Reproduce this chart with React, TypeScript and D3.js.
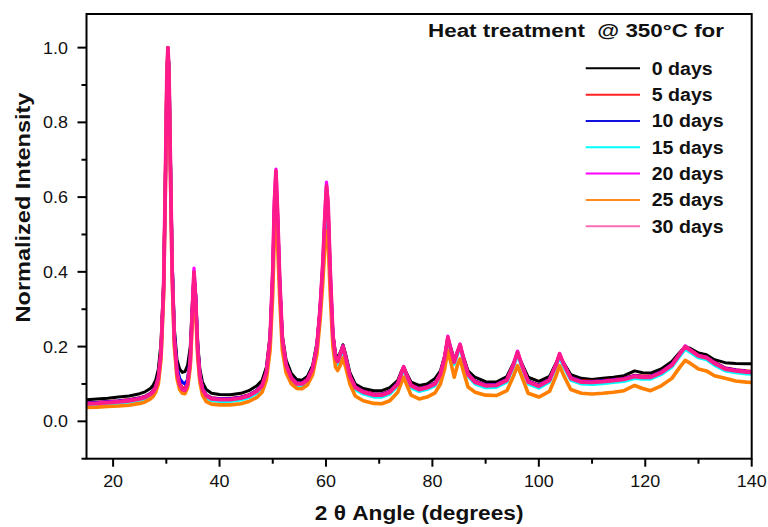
import React from 'react';
import * as d3 from 'd3';

// 2θ grid (degrees)
const angles = [
  15, 17, 19, 21, 23, 25, 26, 27, 27.5, 28,
  28.5, 29, 29.5, 29.8, 30.1, 30.3, 30.5, 30.8, 31.1, 31.5,
  32, 32.5, 33, 33.5, 34, 34.5, 34.9, 35.2, 35.5, 35.9,
  36.3, 36.8, 37.5, 38.5, 40, 42, 44, 45.5, 47, 48,
  48.8, 49.5, 50, 50.3, 50.6, 50.9, 51.3, 51.8, 52.5, 53.5,
  54.5, 55.5, 56.5, 57.5, 58.3, 58.9, 59.4, 59.8, 60.1, 60.4,
  60.8, 61.3, 61.8, 62.2, 62.7, 63.2, 63.7, 64.5, 65.5, 67,
  69, 70.5, 72, 73.5, 74.2, 74.6, 75.1, 76, 77.5, 79,
  80.5, 81.5, 82.3, 82.9, 83.5, 84.1, 84.7, 85.2, 85.8, 86.7,
  88, 90, 92, 94, 95.2, 96, 96.8, 98, 100, 102,
  103.2, 103.9, 104.6, 106, 108, 110, 112, 114, 116, 118,
  119.5, 121, 123, 125, 126.5, 127.5, 128.5, 130, 131.5, 133,
  135, 137, 139, 140,
];

const days0 = [
  0.058, 0.060, 0.062, 0.065, 0.068, 0.074, 0.079, 0.088, 0.096, 0.11,
  0.14, 0.21, 0.38, 0.63, 0.92, 1.0, 0.94, 0.68, 0.43, 0.25,
  0.165, 0.14, 0.131, 0.133, 0.15, 0.20, 0.32, 0.39, 0.34, 0.21,
  0.14, 0.105, 0.085, 0.075, 0.072, 0.071, 0.075, 0.082, 0.095, 0.11,
  0.145, 0.23, 0.39, 0.54, 0.60, 0.52, 0.37, 0.23, 0.165, 0.128,
  0.112, 0.11, 0.12, 0.15, 0.21, 0.30, 0.41, 0.52, 0.57, 0.53,
  0.38, 0.235, 0.18, 0.17, 0.185, 0.205, 0.18, 0.13, 0.10, 0.088,
  0.082, 0.082, 0.09, 0.11, 0.135, 0.145, 0.13, 0.105, 0.096, 0.10,
  0.115, 0.135, 0.175, 0.22, 0.195, 0.165, 0.185, 0.20, 0.175, 0.135,
  0.118, 0.106, 0.105, 0.12, 0.155, 0.18, 0.155, 0.118, 0.107, 0.12,
  0.155, 0.175, 0.158, 0.125, 0.115, 0.112, 0.115, 0.118, 0.122, 0.135,
  0.13, 0.129, 0.14, 0.16, 0.185, 0.20, 0.195, 0.183, 0.178, 0.165,
  0.157, 0.155, 0.154, 0.154,
];

const days5 = [
  0.050, 0.051, 0.053, 0.055, 0.058, 0.063, 0.067, 0.075, 0.081, 0.094,
  0.12, 0.19, 0.37, 0.63, 0.93, 1.0, 0.93, 0.66, 0.41, 0.225,
  0.135, 0.103, 0.09, 0.088, 0.105, 0.165, 0.30, 0.39, 0.33, 0.19,
  0.122, 0.088, 0.071, 0.063, 0.061, 0.061, 0.065, 0.071, 0.083, 0.098,
  0.133, 0.22, 0.39, 0.57, 0.65, 0.55, 0.37, 0.22, 0.152, 0.118,
  0.103, 0.103, 0.113, 0.143, 0.20, 0.30, 0.41, 0.54, 0.61, 0.57,
  0.39, 0.23, 0.172, 0.162, 0.182, 0.20, 0.172, 0.122, 0.093, 0.081,
  0.073, 0.073, 0.081, 0.103, 0.132, 0.145, 0.127, 0.098, 0.088, 0.093,
  0.103, 0.128, 0.172, 0.222, 0.19, 0.16, 0.185, 0.203, 0.172, 0.128,
  0.108, 0.098, 0.099, 0.113, 0.152, 0.183, 0.152, 0.108, 0.097, 0.113,
  0.152, 0.178, 0.156, 0.118, 0.108, 0.107, 0.109, 0.112, 0.115, 0.123,
  0.121, 0.121, 0.133, 0.153, 0.182, 0.198, 0.19, 0.177, 0.172, 0.158,
  0.143, 0.138, 0.135, 0.134,
];

const days10 = [
  0.049, 0.050, 0.052, 0.054, 0.057, 0.062, 0.066, 0.074, 0.080, 0.093,
  0.12, 0.185, 0.36, 0.61, 0.91, 0.99, 0.95, 0.68, 0.42, 0.235,
  0.145, 0.115, 0.105, 0.10, 0.112, 0.17, 0.30, 0.39, 0.34, 0.2,
  0.128, 0.09, 0.07, 0.062, 0.06, 0.06, 0.064, 0.07, 0.082, 0.097,
  0.132, 0.22, 0.39, 0.56, 0.64, 0.55, 0.375, 0.22, 0.152, 0.117,
  0.102, 0.102, 0.112, 0.142, 0.20, 0.30, 0.41, 0.53, 0.60, 0.56,
  0.39, 0.23, 0.172, 0.162, 0.182, 0.20, 0.172, 0.122, 0.092, 0.08,
  0.072, 0.072, 0.08, 0.102, 0.13, 0.143, 0.126, 0.097, 0.087, 0.092,
  0.102, 0.127, 0.17, 0.22, 0.19, 0.16, 0.184, 0.202, 0.17, 0.127,
  0.107, 0.097, 0.098, 0.112, 0.15, 0.182, 0.152, 0.107, 0.096, 0.112,
  0.15, 0.176, 0.155, 0.117, 0.107, 0.106, 0.108, 0.111, 0.114, 0.122,
  0.12, 0.12, 0.132, 0.152, 0.18, 0.196, 0.188, 0.176, 0.171, 0.157,
  0.142, 0.137, 0.134, 0.133,
];

const days15 = [
  0.043, 0.044, 0.046, 0.048, 0.051, 0.056, 0.060, 0.068, 0.074, 0.086,
  0.11, 0.175, 0.35, 0.61, 0.92, 0.99, 0.93, 0.66, 0.40, 0.215,
  0.125, 0.093, 0.08, 0.078, 0.095, 0.155, 0.29, 0.38, 0.32, 0.18,
  0.114, 0.08, 0.063, 0.055, 0.053, 0.053, 0.057, 0.063, 0.075, 0.09,
  0.125, 0.21, 0.38, 0.55, 0.63, 0.53, 0.36, 0.21, 0.145, 0.11,
  0.095, 0.095, 0.105, 0.135, 0.19, 0.29, 0.40, 0.52, 0.59, 0.55,
  0.38, 0.22, 0.163, 0.152, 0.173, 0.19, 0.163, 0.115, 0.085, 0.073,
  0.065, 0.065, 0.073, 0.095, 0.124, 0.138, 0.12, 0.09, 0.08, 0.085,
  0.095, 0.12, 0.163, 0.215, 0.183, 0.152, 0.178, 0.197, 0.163, 0.12,
  0.1, 0.09, 0.091, 0.105, 0.144, 0.178, 0.145, 0.1, 0.089, 0.105,
  0.144, 0.172, 0.148, 0.11, 0.1, 0.099, 0.101, 0.104, 0.107, 0.115,
  0.113, 0.113, 0.125, 0.145, 0.174, 0.193, 0.184, 0.17, 0.165, 0.15,
  0.135, 0.13, 0.127, 0.126,
];

const days20 = [
  0.048, 0.049, 0.051, 0.053, 0.056, 0.061, 0.065, 0.073, 0.079, 0.091,
  0.116, 0.182, 0.36, 0.62, 0.92, 1.0, 0.93, 0.66, 0.40, 0.22,
  0.131, 0.099, 0.086, 0.084, 0.101, 0.162, 0.31, 0.41, 0.335, 0.19,
  0.121, 0.086, 0.069, 0.061, 0.059, 0.059, 0.063, 0.069, 0.081, 0.096,
  0.131, 0.222, 0.41, 0.59, 0.675, 0.565, 0.385, 0.222, 0.151, 0.116,
  0.101, 0.101, 0.111, 0.141, 0.202, 0.305, 0.425, 0.56, 0.64, 0.585,
  0.405, 0.232, 0.171, 0.161, 0.181, 0.202, 0.171, 0.121, 0.091, 0.079,
  0.071, 0.071, 0.079, 0.101, 0.131, 0.147, 0.126, 0.096, 0.086, 0.091,
  0.101, 0.126, 0.171, 0.228, 0.191, 0.159, 0.186, 0.207, 0.171, 0.126,
  0.106, 0.096, 0.097, 0.111, 0.151, 0.188, 0.151, 0.106, 0.095, 0.111,
  0.151, 0.182, 0.156, 0.116, 0.106, 0.105, 0.107, 0.11, 0.113, 0.121,
  0.119, 0.119, 0.131, 0.151, 0.181, 0.202, 0.191, 0.176, 0.171, 0.156,
  0.141, 0.136, 0.133, 0.132,
];

const days25 = [
  0.037, 0.038, 0.040, 0.041, 0.043, 0.048, 0.052, 0.060, 0.066, 0.078,
  0.10, 0.165, 0.34, 0.60, 0.90, 0.99, 0.91, 0.64, 0.38, 0.20,
  0.115, 0.085, 0.075, 0.074, 0.09, 0.145, 0.27, 0.36, 0.30, 0.17,
  0.105, 0.07, 0.053, 0.046, 0.044, 0.044, 0.047, 0.053, 0.064, 0.078,
  0.11, 0.19, 0.34, 0.50, 0.57, 0.48, 0.33, 0.19, 0.13, 0.10,
  0.088, 0.087, 0.097, 0.125, 0.18, 0.27, 0.37, 0.47, 0.51, 0.48,
  0.34, 0.20, 0.145, 0.136, 0.15, 0.17, 0.145, 0.10, 0.068, 0.055,
  0.048, 0.047, 0.055, 0.078, 0.105, 0.118, 0.10, 0.07, 0.06, 0.065,
  0.076, 0.10, 0.14, 0.19, 0.155, 0.118, 0.15, 0.167, 0.135, 0.092,
  0.078, 0.07, 0.069, 0.082, 0.12, 0.149, 0.12, 0.075, 0.065, 0.08,
  0.12, 0.149, 0.125, 0.085, 0.075, 0.073, 0.075, 0.078, 0.082, 0.096,
  0.088, 0.082, 0.095, 0.115, 0.145, 0.163, 0.155, 0.14, 0.135, 0.122,
  0.115, 0.108, 0.105, 0.104,
];

const days30 = [
  0.047, 0.048, 0.050, 0.052, 0.055, 0.060, 0.064, 0.072, 0.078, 0.090,
  0.115, 0.18, 0.36, 0.62, 0.92, 1.0, 0.93, 0.66, 0.40, 0.22,
  0.13, 0.098, 0.085, 0.083, 0.10, 0.16, 0.30, 0.40, 0.33, 0.19,
  0.12, 0.085, 0.068, 0.060, 0.058, 0.058, 0.062, 0.068, 0.080, 0.095,
  0.13, 0.22, 0.40, 0.58, 0.67, 0.56, 0.38, 0.22, 0.15, 0.115,
  0.10, 0.10, 0.11, 0.14, 0.20, 0.30, 0.42, 0.55, 0.63, 0.58,
  0.40, 0.23, 0.17, 0.16, 0.18, 0.20, 0.17, 0.12, 0.09, 0.078,
  0.07, 0.07, 0.078, 0.10, 0.13, 0.145, 0.125, 0.095, 0.085, 0.09,
  0.10, 0.125, 0.17, 0.225, 0.19, 0.158, 0.185, 0.205, 0.17, 0.125,
  0.105, 0.095, 0.096, 0.11, 0.15, 0.185, 0.15, 0.105, 0.094, 0.11,
  0.15, 0.18, 0.155, 0.115, 0.105, 0.104, 0.106, 0.109, 0.112, 0.12,
  0.118, 0.118, 0.13, 0.15, 0.18, 0.2, 0.19, 0.175, 0.17, 0.155,
  0.14, 0.135, 0.132, 0.131,
];

const seriesNames = ['0 days', '5 days', '10 days', '15 days', '20 days', '25 days', '30 days'];
const seriesValues = [days0, days5, days10, days15, days20, days25, days30];
const seriesColors = ['#000000', '#ff0000', '#0000ff', '#00ffff', '#ff00ff', '#ff8000', '#ff1a8c'];
const legendColors = ['#000000', '#ff2020', '#1010e0', '#00ffff', '#ff00ff', '#ff8a20', '#ff6eb4'];
const seriesWidths = [3, 3.2, 3.2, 3.2, 3.2, 3.6, 3.8];

const xMajorTicks = [20, 40, 60, 80, 100, 120, 140];
const xMinorTicks = [30, 50, 70, 90, 110, 130];
const yMajorTicks = [0, 0.2, 0.4, 0.6, 0.8, 1.0];
const yMinorTicks = [-0.1, 0.1, 0.3, 0.5, 0.7, 0.9];

const legendTitle = 'Heat treatment  @ 350°C for';
const xTitle = '2 θ Angle (degrees)';
const yTitle = 'Normalized Intensity';

const FONT = '"Liberation Sans", Arial, Helvetica, sans-serif';
const SX = 1.12;

export default function App() {
  const W = 768;
  const H = 527;
  const L = 86.5, R = 751.7, T = 14, B = 458.7;
  const x = d3.scaleLinear().domain([15, 140]).range([L, R]);
  const y = d3.scaleLinear().domain([-0.1, 1.09]).range([B, T]);

  const line = d3
    .line<number>()
    .x((_, i) => x(angles[i]))
    .y((v) => y(v));

  return (
    <svg
      width={W}
      height={H}
      viewBox={`0 0 ${W} ${H}`}
      style={{ position: 'absolute', left: 0, top: 0, background: '#fff' }}
      fontFamily={FONT}
    >
      <defs>
        <clipPath id="plotClip">
          <rect x={L} y={T} width={R - L} height={B - T} />
        </clipPath>
      </defs>
      <rect x={0} y={0} width={W} height={H} fill="#fff" />

      <g clipPath="url(#plotClip)">
        {seriesValues.map((vals, k) => (
          <path
            key={seriesNames[k]}
            d={line(vals) || ''}
            fill="none"
            stroke={seriesColors[k]}
            strokeWidth={seriesWidths[k]}
            strokeLinejoin="round"
          />
        ))}
      </g>

      {/* frame */}
      <rect x={L} y={T} width={R - L} height={B - T} fill="none" stroke="#000" strokeWidth={2} />

      {/* x ticks */}
      {xMajorTicks.map((t) => (
        <g key={'xM' + t}>
          <line x1={x(t)} x2={x(t)} y1={B} y2={B + 8} stroke="#000" strokeWidth={2} />
          <text
            transform={`translate(${x(t)},${487}) scale(${SX},1)`}
            textAnchor="middle"
            fontSize={16}
            fill="#111"
          >
            {t}
          </text>
        </g>
      ))}
      {xMinorTicks.map((t) => (
        <line key={'xm' + t} x1={x(t)} x2={x(t)} y1={B} y2={B + 5} stroke="#000" strokeWidth={2} />
      ))}

      {/* y ticks */}
      {yMajorTicks.map((t) => (
        <g key={'yM' + t}>
          <line x1={L - 9} x2={L} y1={y(t)} y2={y(t)} stroke="#000" strokeWidth={2} />
          <text
            transform={`translate(${68},${y(t) + 6}) scale(${SX},1)`}
            textAnchor="end"
            fontSize={16}
            fill="#111"
          >
            {t.toFixed(1)}
          </text>
        </g>
      ))}
      {yMinorTicks.map((t) => (
        <line key={'ym' + t} x1={L - 5} x2={L} y1={y(t)} y2={y(t)} stroke="#000" strokeWidth={2} />
      ))}

      {/* axis titles */}
      <text
        transform={`translate(${(L + R) / 2},${520}) scale(1.08,1)`}
        textAnchor="middle"
        fontSize={21}
        fontWeight="bold"
        fill="#111"
      >
        {xTitle}
      </text>
      <text
        transform={`translate(${30},${207.5}) rotate(-90) scale(1.12,1)`}
        textAnchor="middle"
        fontSize={21}
        fontWeight="bold"
        fill="#111"
      >
        {yTitle}
      </text>

      {/* legend */}
      <text
        transform={`translate(${428},${37}) scale(1.18,1)`}
        fontSize={19}
        fontWeight="bold"
        fill="#111"
        style={{ whiteSpace: 'pre' }}
      >
        {legendTitle}
      </text>
      {seriesNames.map((name, k) => {
        const ly = 68.3 + k * 26.33;
        return (
          <g key={'lg' + name}>
            <line x1={585.7} x2={640} y1={ly} y2={ly} stroke={legendColors[k]} strokeWidth={2} />
            <text
              transform={`translate(${651.7},${ly + 6.5}) scale(${SX},1)`}
              fontSize={17.5}
              fontWeight="bold"
              fill="#111"
            >
              {name}
            </text>
          </g>
        );
      })}
    </svg>
  );
}
